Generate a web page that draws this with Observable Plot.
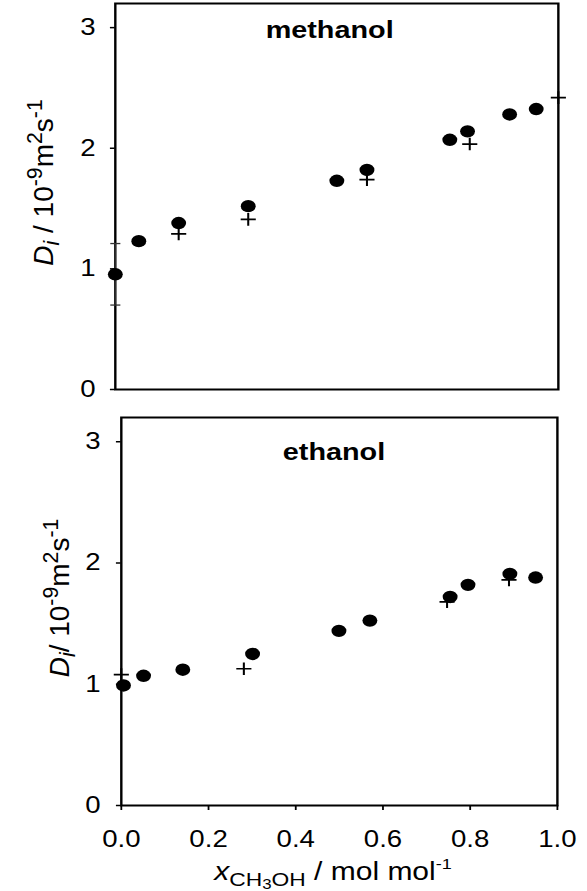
<!DOCTYPE html>
<html><head><meta charset="utf-8">
<script src="https://cdn.jsdelivr.net/npm/d3@7"></script>
<script src="https://cdn.jsdelivr.net/npm/@observablehq/plot@0.6"></script>
<style>
body{margin:0;background:#fff}
#chart{width:587px;height:891px;overflow:hidden;background:#fff}
#chart svg{display:block}
</style>
</head><body><div id="chart"></div>
<script>
// ---- data ----
const panelLabels = ["methanol", "ethanol"];
const yTicks = [0, 1, 2, 3];
const xTicks = [0, 0.2, 0.4, 0.6, 0.8, 1.0];

// methanol panel: filled circles
const methX = [0.0, 0.053, 0.143, 0.30, 0.50, 0.568, 0.755, 0.795, 0.89, 0.95];
const methD = [0.955, 1.23, 1.38, 1.52, 1.73, 1.82, 2.07, 2.14, 2.28, 2.325];
// methanol panel: crosses
const methCrossX = [0.143, 0.30, 0.568, 0.80, 1.0];
const methCrossD = [1.29, 1.41, 1.74, 2.035, 2.42];
// methanol error bar
const methErrX = [0.0];
const methErrLo = [0.70];
const methErrHi = [1.21];

// ethanol panel: filled circles
const ethX = [0.005, 0.051, 0.141, 0.301, 0.499, 0.57, 0.754, 0.795, 0.891, 0.95];
const ethD = [0.99, 1.07, 1.12, 1.25, 1.44, 1.525, 1.72, 1.82, 1.91, 1.88];
// ethanol panel: crosses
const ethCrossX = [0.0, 0.281, 0.747, 0.889];
const ethCrossD = [1.08, 1.128, 1.68, 1.86];

// ---- helpers ----
const W = 587, S = 1.2, IW = W / S;   // drawn narrower, then stretched horizontally like the reference
const font = "'Liberation Sans', Arial, Helvetica, sans-serif";
const pts = (xs, ys) => xs.map((x, i) => ({x, y: ys[i]}));
const plusSymbol = {draw(ctx, size) { const r = Math.sqrt(size / Math.PI);
  ctx.moveTo(-r, 0); ctx.lineTo(r, 0); ctx.moveTo(0, -r); ctx.lineTo(0, r); }};
const capSymbol = {draw(ctx, size) { const r = Math.sqrt(size / Math.PI);
  ctx.moveTo(-r, 0); ctx.lineTo(r, 0); }};

function stretch(svg, h) {
  svg.setAttribute("width", W);
  svg.setAttribute("height", h);
  svg.setAttribute("preserveAspectRatio", "none");
  svg.style.width = W + "px";
  svg.style.height = h + "px";
  svg.style.maxWidth = "none";
  svg.style.overflow = "visible";
}

function yLabel(svg, x, y, slash, size) {
  const t = d3.select(svg).append("text")
    .attr("transform", `translate(${x},${y}) scale(${1 / S},1) rotate(-90)`)
    .attr("text-anchor", "middle")
    .attr("font-family", font)
    .attr("font-size", size)
    .attr("fill", "black")
    .style("white-space", "pre");
  const s = size * 0.76;
  t.append("tspan").attr("font-style", "italic").text("D");
  t.append("tspan").attr("font-style", "italic").attr("font-size", s).attr("dy", 6).text("i");
  t.append("tspan").attr("dy", -6).text(slash + " 10");
  t.append("tspan").attr("font-size", s).attr("dy", -11).text("-9");
  t.append("tspan").attr("dy", 11).text("m");
  t.append("tspan").attr("font-size", s).attr("dy", -11).text("2");
  t.append("tspan").attr("dy", 11).text("s");
  t.append("tspan").attr("font-size", s).attr("dy", -11).text("-1");
}

const style = {fontFamily: font, fontSize: "23px", color: "black", background: "white"};

// ---- top panel (methanol) ----
const H1 = 400;
const topPlot = Plot.plot({
  width: IW, height: H1,
  marginTop: 3, marginBottom: 11, marginLeft: 95.6, marginRight: IW - 464.8,
  style,
  x: {domain: [0, 1], axis: null},
  y: {domain: [0, 3.2]},
  marks: [
    Plot.frame({stroke: "black", strokeWidth: 2}),
    Plot.ruleX(pts(methErrX, methErrLo), {x: "x", y1: (d, i) => methErrLo[i], y2: (d, i) => methErrHi[i], stroke: "#333", strokeWidth: 1}),
    Plot.dot(pts(methErrX, methErrLo).concat(pts(methErrX, methErrHi)), {x: "x", y: "y", r: 4.2, symbol: capSymbol, stroke: "#333", strokeWidth: 1.3, fill: "none"}),
    Plot.axisY({ticks: yTicks, tickSize: 4, tickPadding: 12.5, fontSize: 23, strokeWidth: 1.5, label: null, tickFormat: d => String(d)}),
    Plot.dot(pts(methCrossX, methCrossD), {x: "x", y: "y", r: 6.3, symbol: plusSymbol, stroke: "black", strokeWidth: 1.7, fill: "none"}),
    Plot.dot(pts(methX, methD), {x: "x", y: "y", r: 6.2, fill: "black", stroke: "none"}),
    Plot.text([panelLabels[0]], {text: d => d, frameAnchor: "top", dx: -6, dy: 27, lineAnchor: "middle", fontWeight: "bold", fontSize: 24, fill: "black"})
  ]
});
stretch(topPlot, H1);
yLabel(topPlot, 44.2, 182.5, " /", 28);

// ---- bottom panel (ethanol) ----
const H2 = 491;
const bottomPlot = Plot.plot({
  width: IW, height: H2,
  marginTop: 17, marginBottom: 86, marginLeft: 100.6, marginRight: IW - 464.0,
  style,
  x: {domain: [0, 1]},
  y: {domain: [0, 3.2]},
  marks: [
    Plot.frame({stroke: "black", strokeWidth: 2}),
    Plot.axisY({ticks: yTicks, tickSize: 4, tickPadding: 13.3, fontSize: 23, strokeWidth: 1.5, label: null, tickFormat: d => String(d)}),
    Plot.axisX({ticks: xTicks, tickSize: 5, tickPadding: 20, fontSize: 23, strokeWidth: 1.5, label: null, tickFormat: d3.format(".1f")}),
    Plot.dot(pts(ethCrossX, ethCrossD), {x: "x", y: "y", r: 6.3, symbol: plusSymbol, stroke: "black", strokeWidth: 1.7, fill: "none"}),
    Plot.dot(pts(ethX, ethD), {x: "x", y: "y", r: 6.2, fill: "black", stroke: "none"}),
    Plot.text([panelLabels[1]], {text: d => d, frameAnchor: "top", dx: -4.5, dy: 35.3, lineAnchor: "middle", fontWeight: "bold", fontSize: 24, fill: "black"})
  ]
});
stretch(bottomPlot, H2);
yLabel(bottomPlot, 57.5, 198, "/", 28);

// x axis title
const xt = d3.select(bottomPlot).append("text")
  .attr("x", 277.5).attr("y", 480)
  .attr("text-anchor", "middle")
  .attr("font-family", font).attr("font-size", 25).attr("fill", "black")
  .style("white-space", "pre");
xt.append("tspan").attr("font-style", "italic").text("x");
xt.append("tspan").attr("font-size", 19).attr("dy", 6).text("CH");
xt.append("tspan").attr("font-size", 14).attr("dy", 3).text("3");
xt.append("tspan").attr("font-size", 19).attr("dy", -3).text("OH");
xt.append("tspan").attr("dy", -6).text(" / mol mol");
xt.append("tspan").attr("font-size", 15).attr("dy", -11).text("-1");

const chart = document.getElementById("chart");
chart.appendChild(topPlot);
chart.appendChild(bottomPlot);
</script>
</body></html>
